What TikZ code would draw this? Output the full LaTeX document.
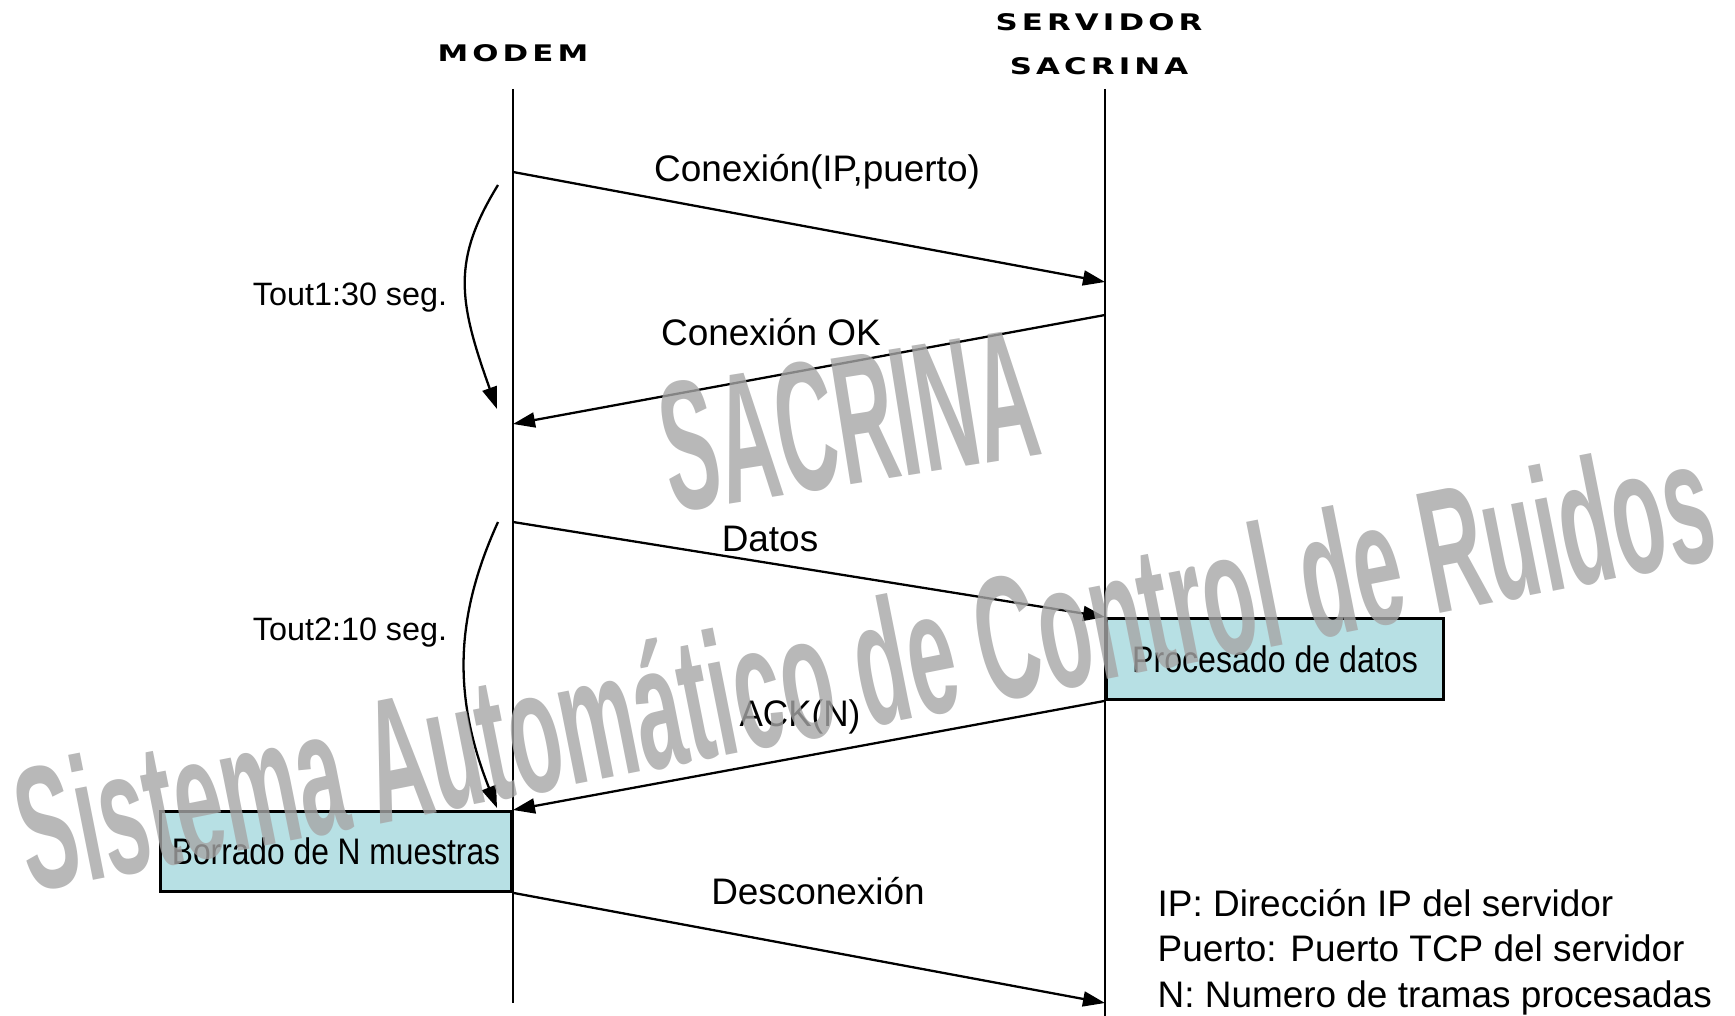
\documentclass[tikz,border=0pt]{standalone}
\usepackage{fontspec}
\setmainfont{Liberation Sans}
\newfontfamily\cabfont{DejaVu Sans}[FakeStretch=1.35,LetterSpace=18]
\usetikzlibrary{arrows.meta,positioning}
\definecolor{cajaazul}{RGB}{183,224,228}

\begin{document}
\begin{tikzpicture}[x=0.01cm,y=-0.01cm,
    cabecera/.style={font=\cabfont\bfseries\fontsize{6.5}{8}\selectfont, inner sep=0},
    etiqueta/.style={font=\fontsize{10.5}{12}\selectfont, inner sep=0},
    tiempo/.style={font=\fontsize{9.2}{11}\selectfont, inner sep=0},
    msg/.style={-{Triangle[length=2.2mm,width=1.5mm]}, line width=0.65pt},
    caja/.style={draw, line width=0.8pt, fill=cajaazul, inner sep=0,
        font=\fontsize{10.5}{12}\selectfont},
    marca/.style={font=\bfseries\fontsize{50}{50}\selectfont, text=gray!70,
        text opacity=0.8, inner sep=0, anchor=base west}]

    \newcommand*{\xmodem}{513}%
    \newcommand*{\xserv}{1105}%

    \useasboundingbox (0,0) rectangle (1735,1016);

    % cabeceras ↓
    \node [cabecera] (modem) at (\xmodem,53) {MODEM};
    \node [cabecera] (serv1) at (1099,22) {SERVIDOR};
    \node [cabecera] (serv2) at (1099,66) {SACRINA};

    % lineas de vida ↓
    \coordinate (mtop) at (\xmodem,89);
    \coordinate (mbot) at (\xmodem,1003);
    \coordinate (stop) at (\xserv,89);
    \coordinate (sbot) at (\xserv,1016);
    \draw [line width=0.65pt] (mtop) -- (mbot);
    \draw [line width=0.65pt] (stop) -- (sbot);

    % cajas ↓
    \node [caja, minimum width=3.37cm, minimum height=0.81cm, anchor=north west]
        (proc) at (\xserv,617) {\scalebox{0.87}[1]{Procesado de datos}};
    \node [caja, minimum width=3.51cm, minimum height=0.80cm, anchor=north east]
        (borr) at (\xmodem,810) {\scalebox{0.86}[1]{Borrado de N muestras}};

    % mensajes ↓
    \coordinate (m1) at (\xmodem,172);
    \coordinate (s1) at (\xserv,282);
    \coordinate (s2) at (\xserv,315);
    \coordinate (m2) at (\xmodem,424);
    \coordinate (m3) at (\xmodem,522);
    \coordinate (s5) at (\xserv,1003);
    \draw [msg] (m1) -- (s1);
    \draw [msg] (s2) -- (m2);
    \draw [msg] (m3) -- (proc.north west);
    \draw [msg] (proc.south west) -- (borr.north east);
    \draw [msg] (borr.south east) -- (s5);

    \node [etiqueta] (lconex) at (817,172) {Conexión(IP,puerto)};
    \node [etiqueta] (lok) at (771,332) {Conexión OK};
    \node [etiqueta] (ldatos) at (770,539) {Datos};
    \node [etiqueta] (lack) at (800,717) {\scalebox{0.95}[1]{ACK(N)}};
    \node [etiqueta] (ldesc) at (818,891) {Desconexión};

    % temporizadores ↓
    \coordinate (t1a) at (498,185);
    \coordinate (t1b) at (497,409);
    \coordinate (t2a) at (498,522);
    \coordinate (t2b) at (497,808);
    \draw [msg] (t1a) .. controls (452,260) and (458,300) .. (t1b);
    \draw [msg] (t2a) .. controls (458,610) and (450,690) .. (t2b);
    \node [tiempo] (lt1) at (350,298) {Tout1:30 seg.};
    \node [tiempo] (lt2) at (350,633) {Tout2:10 seg.};

    % leyenda ↓
    \node [etiqueta, anchor=west, align=left, font=\fontsize{10.5}{12.9}\selectfont]
        (leyenda) at (1157,952)
        {IP: Dirección IP del servidor\\Puerto: Puerto TCP del servidor\\N: Numero de tramas procesadas};

    % marca de agua ↓
    \node [marca, rotate=9] (wm1) at (672,513) {\scalebox{0.47}[1.05]{SACRINA}};
    \node [marca, rotate=11.2] (wm2) at (30,893)
        {\scalebox{0.49}[1]{Sistema Automático de Control de Ruidos}};

\end{tikzpicture}
\end{document}
